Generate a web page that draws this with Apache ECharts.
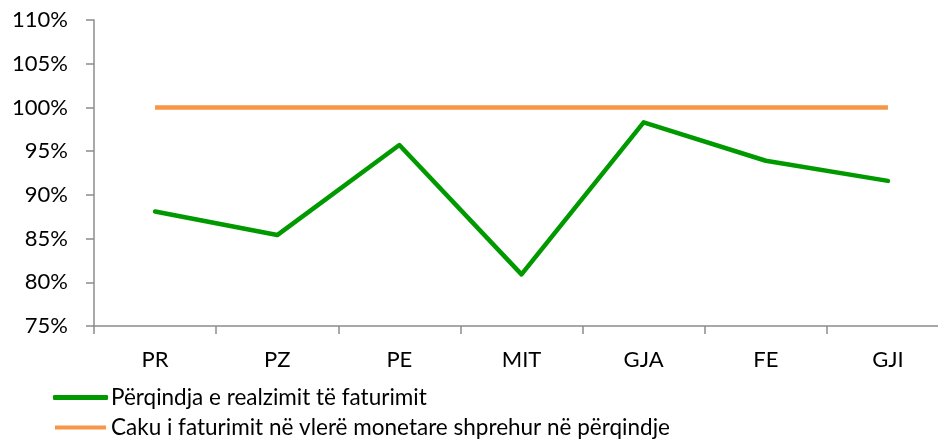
<!DOCTYPE html>
<html>
<head>
<meta charset="utf-8">
<script src="https://cdn.jsdelivr.net/npm/echarts@6/dist/echarts.min.js"></script>
<style>
  html, body { margin: 0; padding: 0; background: #fff; }
  #main { width: 938px; height: 440px; }
</style>
</head>
<body>
<div id="main"></div>
<script>
const categories = ['PR', 'PZ', 'PE', 'MIT', 'GJA', 'FE', 'GJI']
const realizimi = [88.1, 85.4, 95.7, 80.9, 98.3, 93.9, 91.6]
const caku = [100, 100, 100, 100, 100, 100, 100]
const seriesNames = [
  'Përqindja e realzimit të faturimit',
  'Caku i faturimit në vlerë monetare shprehur në përqindje',
]

const chart = echarts.init(document.getElementById('main'))
const font = 'Lato, "Open Sans", sans-serif'
const axisColor = '#8c8c8c'
const green = '#009900'
const orange = '#F79646'

const option = {
  animation: false,
  textStyle: { fontFamily: font },
  // plot area runs a bit past the right edge, like the original
  grid: { left: 94, width: 855, top: 20, bottom: 114, outerBoundsMode: 'none', containLabel: false },
  legend: [
    {
      orient: 'vertical',
      left: 53,
      top: 386,
      padding: 0,
      itemWidth: 55,
      itemHeight: 5,
      textStyle: { fontFamily: font, fontSize: 22.5, color: '#000', padding: [0, 0, 0, -2] },
      data: [{ name: seriesNames[0], icon: 'roundRect', itemStyle: { color: green } }],
    },
    {
      orient: 'vertical',
      left: 55,
      top: 416,
      padding: 0,
      itemWidth: 51,
      itemHeight: 4,
      textStyle: { fontFamily: font, fontSize: 22.5, color: '#000' },
      data: [{ name: seriesNames[1], icon: 'rect', itemStyle: { color: orange } }],
    },
  ],
  xAxis: {
    type: 'category',
    data: categories,
    boundaryGap: true,
    axisLine: { lineStyle: { color: axisColor, width: 1.5 } },
    axisTick: { show: true, length: 8, lineStyle: { color: axisColor, width: 1.5 } },
    axisLabel: { fontFamily: font, fontSize: 22, color: '#000', margin: 23 },
    splitLine: { show: false },
  },
  yAxis: {
    type: 'value',
    min: 75,
    max: 110,
    interval: 5,
    axisLine: { show: true, lineStyle: { color: axisColor, width: 1.5 } },
    axisTick: { show: true, length: 8, lineStyle: { color: axisColor, width: 1.5 } },
    axisLabel: { fontFamily: font, fontSize: 22, color: '#000', margin: 26, formatter: '{value}%' },
    splitLine: { show: false },
  },
  series: [
    {
      name: seriesNames[0],
      type: 'line',
      data: realizimi,
      symbol: 'none',
      lineStyle: { color: green, width: 4.5, cap: 'round', join: 'round' },
      itemStyle: { color: green },
      z: 3,
    },
    {
      name: seriesNames[1],
      type: 'line',
      data: caku,
      symbol: 'none',
      lineStyle: { color: orange, width: 4.5 },
      itemStyle: { color: orange },
      z: 2,
    },
  ],
}

option && chart.setOption(option)
</script>
</body>
</html>
